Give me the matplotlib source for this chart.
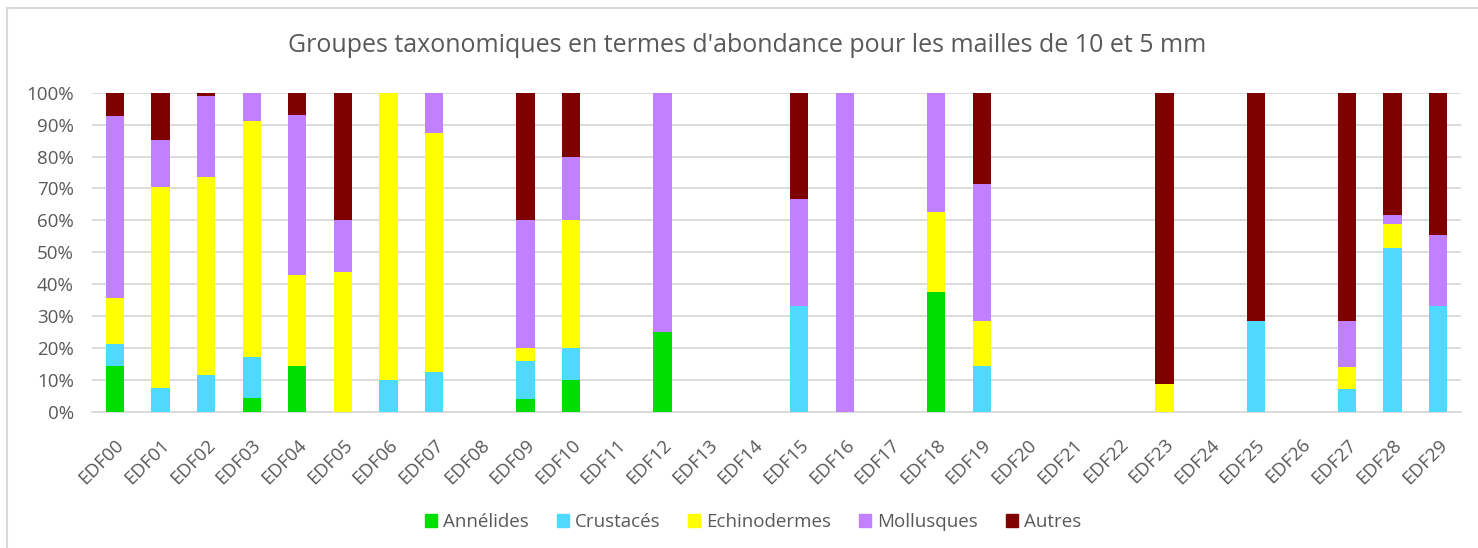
import matplotlib.pyplot as plt
import matplotlib.patches as mpatches
import numpy as np

# stations
stations = ["EDF%02d" % i for i in range(30)]

# pourcentages par groupe
annelides = [14.3, 0, 0, 4.3, 14.3, 0, 0, 0, 0, 4, 10, 0, 25, 0, 0,
             0, 0, 0, 37.5, 0, 0, 0, 0, 0, 0, 0, 0, 0, 0, 0]
crustaces = [7.1, 7.4, 11.6, 13.0, 0, 0, 10, 12.5, 0, 12, 10, 0, 0, 0, 0,
             33.3, 0, 0, 0, 14.3, 0, 0, 0, 0, 0, 28.6, 0, 7.1, 51.3, 33.3]
echinodermes = [14.3, 63.0, 62.1, 73.9, 28.6, 44, 90, 75, 0, 4, 40, 0, 0, 0, 0,
                0, 0, 0, 25, 14.3, 0, 0, 0, 8.7, 0, 0, 0, 7.1, 7.7, 0]
mollusques = [57.1, 14.8, 25.3, 8.7, 50, 16, 0, 12.5, 0, 40, 20, 0, 75, 0, 0,
              33.3, 100, 0, 37.5, 42.9, 0, 0, 0, 0, 0, 0, 0, 14.3, 2.6, 22.2]
autres = [7.1, 14.8, 1.0, 0, 7.1, 40, 0, 0, 0, 40, 20, 0, 0, 0, 0,
          33.3, 0, 0, 0, 28.6, 0, 0, 0, 91.3, 0, 71.4, 0, 71.4, 38.5, 44.4]

groupes = ["Annélides", "Crustacés", "Echinodermes", "Mollusques", "Autres"]
couleurs = ["#00DD00", "#50D9FF", "#FFFF00", "#C080FF", "#800000"]
series = [annelides, crustaces, echinodermes, mollusques, autres]

gris = "#595959"
plt.rcParams["font.family"] = ["Open Sans", "DejaVu Sans"]

fig = plt.figure(figsize=(14.78, 5.48), dpi=100)
ax = fig.add_axes([92 / 1478, 1 - 412 / 548, (1461 - 92) / 1478, (412 - 92.7) / 548])

x = np.arange(len(stations))
bas = np.zeros(len(stations))
for nom, vals, c in zip(groupes, series, couleurs):
    vals = np.array(vals, dtype=float)
    ax.bar(x, vals, 0.4, bottom=bas, color=c, label=nom, zorder=3)
    bas += vals

ax.set_xlim(-0.5, len(stations) - 0.5)
ax.set_ylim(0, 100)
ax.set_yticks(np.arange(0, 101, 10))
ax.set_yticklabels(["%d%%" % v for v in range(0, 101, 10)])
ax.set_xticks(x)
ax.set_xticklabels(stations, rotation=45, ha="right", rotation_mode="anchor")
ax.tick_params(axis="both", length=0, labelsize=13.5, colors=gris)
ax.tick_params(axis="y", pad=13)
ax.tick_params(axis="x", pad=17)
ax.grid(axis="y", color="#D9D9D9", linewidth=1.3, zorder=0)
for s in ["top", "right", "left"]:
    ax.spines[s].set_visible(False)
ax.spines["bottom"].set_color("#D9D9D9")
ax.spines["bottom"].set_linewidth(1.3)

fig.text(747 / 1478, 1 - 45 / 548, "Groupes taxonomiques en termes d'abondance pour les mailles de 10 et 5 mm",
         ha="center", va="center", fontsize=18, color=gris)

poignees = [mpatches.Patch(color=c, label=g) for g, c in zip(groupes, couleurs)]
fig.legend(handles=poignees, loc="center", bbox_to_anchor=(753 / 1478, 1 - 522 / 548), ncol=5,
           frameon=False, fontsize=13.5, labelcolor=gris, handlelength=0.65, handleheight=0.65,
           handletextpad=0.3, columnspacing=1.5)

# cadre du graphique
fig.patches.append(mpatches.Rectangle((7 / 1478, -0.1), 1.2, 1 - 8 / 548 + 0.1, transform=fig.transFigure,
                                      fill=False, edgecolor="#D9D9D9", linewidth=1.5))

fig.savefig("out.png", dpi=100)
